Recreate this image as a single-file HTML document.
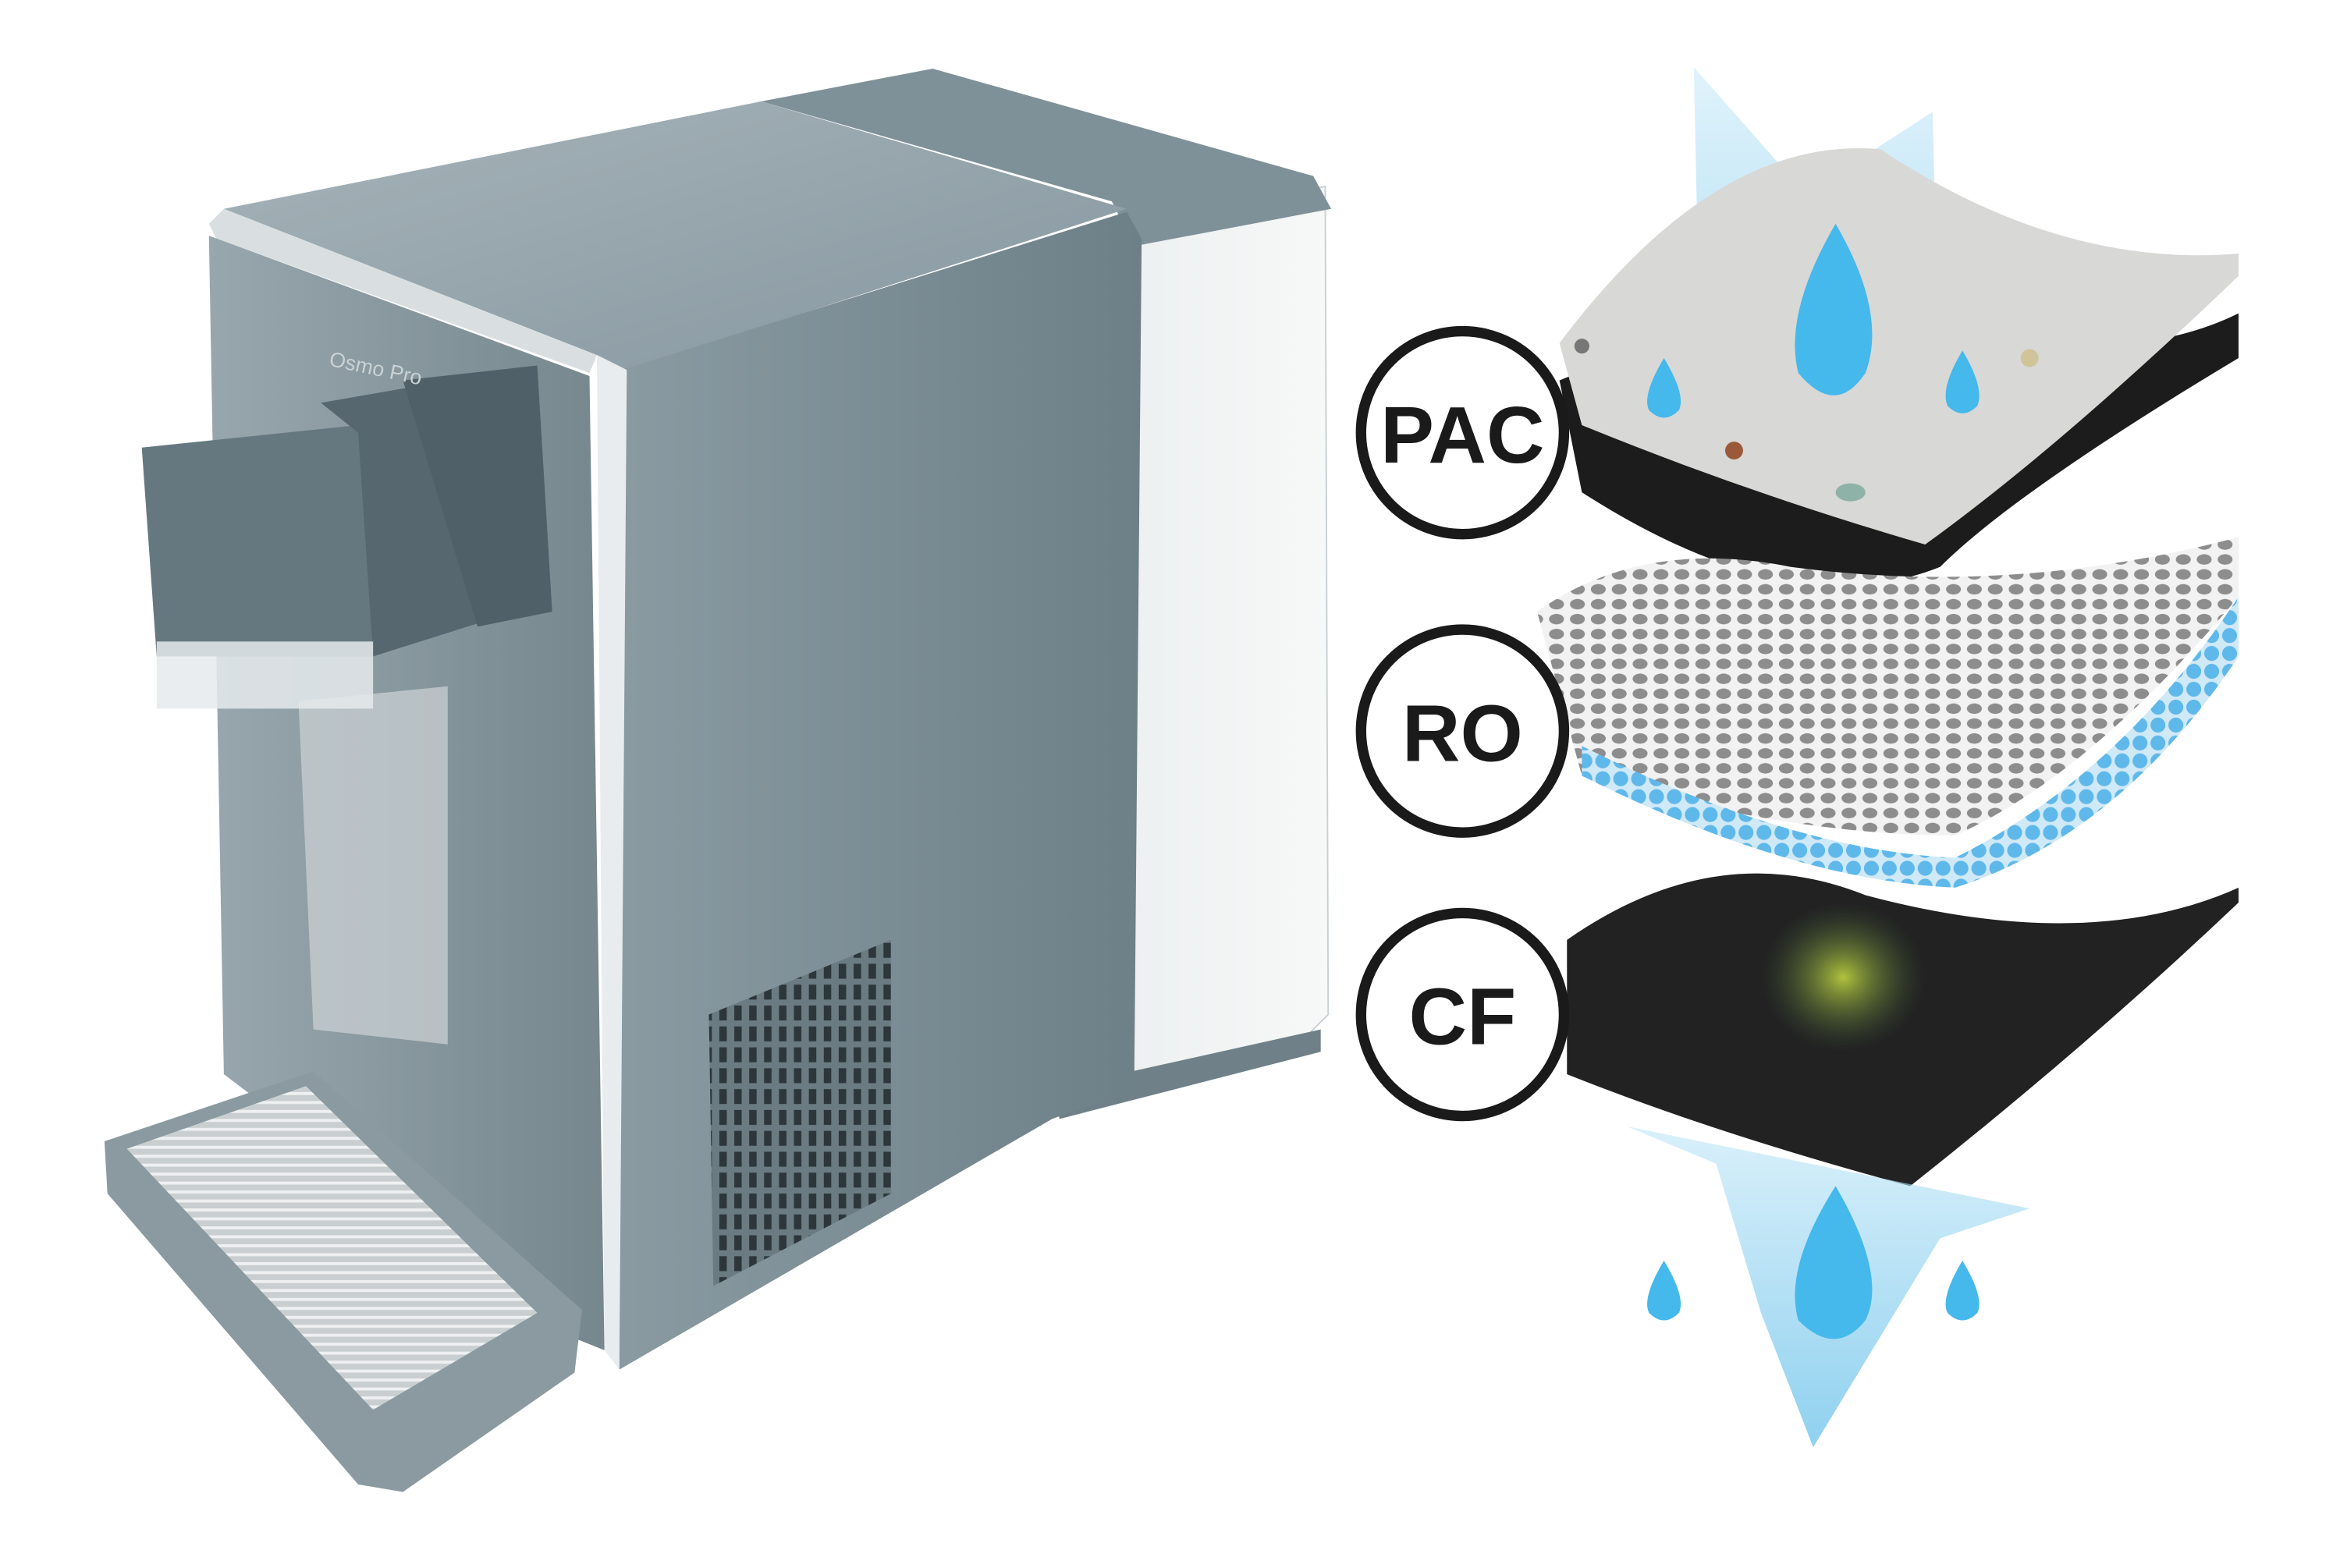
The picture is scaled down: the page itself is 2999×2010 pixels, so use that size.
<!DOCTYPE html>
<html><head><meta charset="utf-8"><style>
html,body{margin:0;padding:0;background:#fff;}
svg{display:block;}
</style></head><body>
<svg width="2999" height="2010" viewBox="0 0 1568 1051" preserveAspectRatio="none" xmlns="http://www.w3.org/2000/svg">
<defs>
<linearGradient id="side" x1="0" y1="0" x2="1" y2="0"><stop offset="0" stop-color="#8a9ba2"/><stop offset="1" stop-color="#6d7f87"/></linearGradient>
<linearGradient id="front" x1="0" y1="0" x2="1" y2="0"><stop offset="0" stop-color="#98a7ad"/><stop offset="1" stop-color="#76878e"/></linearGradient>
<linearGradient id="top" x1="0" y1="0" x2="1" y2="1"><stop offset="0" stop-color="#a6b4b9"/><stop offset="1" stop-color="#8797a0"/></linearGradient>
<linearGradient id="tank" x1="0" y1="0" x2="1" y2="0"><stop offset="0" stop-color="#e9edee"/><stop offset="1" stop-color="#f7f8f8"/></linearGradient>
<linearGradient id="blue" x1="0" y1="0" x2="0" y2="1"><stop offset="0" stop-color="#bfe6f7" stop-opacity="0.8"/><stop offset="1" stop-color="#4fb6e6" stop-opacity="0.85"/></linearGradient>
<radialGradient id="green"><stop offset="0" stop-color="#b0c23c"/><stop offset="1" stop-color="#3a5a3a" stop-opacity="0"/></radialGradient>
<pattern id="holes" width="14" height="10" patternUnits="userSpaceOnUse"><rect width="14" height="10" fill="#f2f2f2"/><ellipse cx="7" cy="5" rx="5" ry="3.5" fill="#8d8d8d"/></pattern>
<pattern id="grill" width="10" height="14" patternUnits="userSpaceOnUse"><rect width="10" height="14" fill="#6a7b82"/><rect x="2" y="2" width="5" height="10" fill="#2c363b"/></pattern>
<pattern id="tray" width="6" height="6" patternUnits="userSpaceOnUse"><rect width="6" height="6" fill="#c9cfd1"/><rect width="6" height="2" fill="#eef0f1"/></pattern>
<pattern id="balls" width="12" height="12" patternUnits="userSpaceOnUse"><rect width="12" height="12" fill="#cfe9f7"/><circle cx="6" cy="6" r="5" fill="#5fb8ea"/></pattern>
</defs>

<!-- tank -->
<polygon points="760,150 888,125 890,680 870,700 705,730 708,180" fill="url(#tank)" stroke="#c8d0d3"/>
<polygon points="705,730 885,690 885,705 710,750" fill="#6f8088"/>
<polygon points="510,68 625,46 880,118 892,140 760,165 745,135" fill="#7f9198"/>
<polygon points="150,140 510,68 755,140 420,248 400,238" fill="url(#top)"/>
<polygon points="410,250 755,142 765,160 760,730 705,750 415,918" fill="url(#side)"/>
<polygon points="475,680 597,630 597,800 478,862" fill="url(#grill)"/>
<polygon points="400,238 420,248 415,918 405,905" fill="#e8ecee"/>
<polygon points="140,150 150,140 400,238 395,250 145,160" fill="#d9dfe1"/>
<polygon points="140,158 395,252 405,905 380,895 150,720" fill="url(#front)"/>
<polygon points="200,470 300,460 300,700 210,690" fill="#cdd3d5" opacity="0.7"/>
<polygon points="95,300 240,285 250,440 105,440" fill="#66787f"/>
<polygon points="215,270 330,250 345,410 250,440 240,290" fill="#56676f"/>
<polygon points="270,255 360,245 370,410 320,420" fill="#4f6068"/>
<rect x="105" y="430" width="145" height="45" fill="#e5eaec" opacity="0.85"/>
<polygon points="70,765 210,718 390,878 385,920 270,1000 240,995 72,800" fill="#8a9aa0"/>
<polygon points="85,770 205,728 360,880 250,945" fill="url(#tray)"/>
<text x="220" y="245" font-family="Liberation Sans,sans-serif" font-size="14" fill="#c9d2d5" transform="rotate(12 220 245)">Osmo Pro</text>

<!-- Filter layers -->
<polygon points="1135,45 1210,130 1295,75 1300,280 1140,280" fill="url(#blue)" opacity="0.6"/>
<path d="M1045,255 Q1200,190 1340,230 Q1440,240 1500,210 L1500,240 Q1350,330 1300,380 Q1200,420 1060,330 Z" fill="#1c1c1c"/>
<path d="M1045,230 Q1150,90 1260,100 Q1380,180 1500,170 L1500,185 Q1380,300 1290,365 Q1170,330 1060,285 Z" fill="#d8d8d6"/>
<circle cx="1060" cy="232" r="5" fill="#777"/>
<circle cx="1162" cy="302" r="6" fill="#9a5a3a"/>
<ellipse cx="1240" cy="330" rx="10" ry="6" fill="#8fb2a8"/>
<circle cx="1360" cy="240" r="6" fill="#cfc49a"/>
<path d="M1030,410 Q1100,360 1200,380 Q1350,400 1500,360 L1500,400 Q1400,520 1310,560 Q1200,560 1060,520 Z" fill="url(#holes)"/>
<path d="M1060,500 Q1200,570 1310,575 Q1420,520 1500,400 L1500,440 Q1420,560 1310,595 Q1200,590 1060,520 Z" fill="url(#balls)"/>
<path d="M1050,630 Q1150,560 1250,600 Q1400,640 1500,595 L1500,605 Q1400,700 1280,795 Q1150,760 1050,720 Z" fill="#222"/>
<ellipse cx="1235" cy="655" rx="55" ry="50" fill="url(#green)"/>
<polygon points="1090,755 1360,810 1300,830 1215,970 1180,880 1150,780" fill="url(#blue)" opacity="0.75"/>
<g fill="#45b8ec">
<path d="M1230,150 Q1265,210 1250,250 Q1230,280 1205,250 Q1195,210 1230,150Z"/>
<path d="M1230,795 Q1265,855 1250,885 Q1230,910 1205,885 Q1195,850 1230,795Z"/>
<path d="M1115,240 Q1130,265 1125,275 Q1115,285 1105,275 Q1100,265 1115,240Z"/>
<path d="M1315,235 Q1330,260 1325,272 Q1315,282 1305,272 Q1300,260 1315,235Z"/>
<path d="M1115,845 Q1130,870 1125,880 Q1115,890 1105,880 Q1100,870 1115,845Z"/>
<path d="M1315,845 Q1330,870 1325,880 Q1315,890 1305,880 Q1300,870 1315,845Z"/>
</g>

<g font-family="Liberation Sans,sans-serif" font-weight="bold" text-anchor="middle" fill="#1a1a1a">
<circle cx="980" cy="290" r="68" fill="#fff" stroke="#1a1a1a" stroke-width="7"/>
<text x="980" y="310" font-size="54">PAC</text>
<circle cx="980" cy="490" r="68" fill="#fff" stroke="#1a1a1a" stroke-width="7"/>
<text x="980" y="510" font-size="54">RO</text>
<circle cx="980" cy="680" r="68" fill="#fff" stroke="#1a1a1a" stroke-width="7"/>
<text x="980" y="700" font-size="54">CF</text>
</g>
</svg>
</body></html>
